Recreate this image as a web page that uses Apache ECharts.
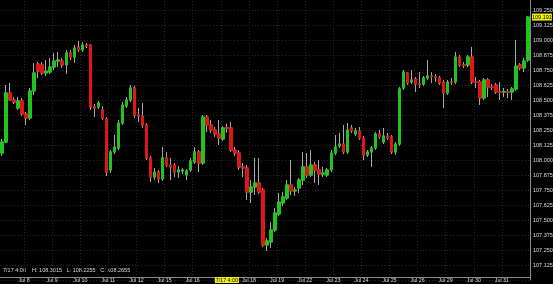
<!DOCTYPE html>
<html><head><meta charset="utf-8">
<script src="https://cdn.jsdelivr.net/npm/echarts@6/dist/echarts.min.js"></script>
<style>html,body{margin:0;padding:0;background:#000;}#c{width:553px;height:284px;}</style>
</head><body><div id="c"></div>
<script>
// Trading days and number of bars shown for each
const days = ['Jul 5','Jul 8','Jul 9','Jul 10','Jul 11','Jul 12','Jul 15','Jul 16','Jul 17','Jul 18','Jul 19',
  'Jul 22','Jul 23','Jul 24','Jul 25','Jul 26','Jul 29','Jul 30','Jul 31'];
const barsPerDay = [6,7,7,7,7,7,7,7,7,7,7,7,7,7,7,7,7,7,7];

const opens = [
108.058,108.150,108.558,108.500,108.433,108.492,108.383,108.350,108.575,108.800,
108.792,108.725,108.733,108.775,108.825,108.825,108.792,108.892,108.858,108.942,
108.917,108.958,108.958,108.442,108.442,108.417,108.342,107.917,108.067,108.100,
108.308,108.450,108.500,108.600,108.375,108.367,108.292,108.017,107.858,107.900,
107.842,108.017,107.958,107.958,107.900,107.908,107.875,107.917,107.983,108.067,
107.975,108.358,108.292,108.250,108.217,108.175,108.270,108.267,108.083,108.058,
107.942,107.933,107.733,107.775,107.808,107.750,107.292,107.317,107.417,107.550,
107.642,107.683,107.792,107.742,107.767,107.833,107.942,107.875,107.958,107.917,
107.883,107.875,107.917,108.058,108.117,108.133,108.067,108.267,108.217,108.242,
108.183,108.042,108.067,108.100,108.217,108.150,108.200,108.192,108.067,108.133,
108.600,108.725,108.650,108.675,108.633,108.633,108.683,108.700,108.692,108.683,
108.650,108.558,108.650,108.650,108.858,108.792,108.792,108.858,108.650,108.650,
108.517,108.667,108.608,108.625,108.567,108.567,108.567,108.567,108.592,108.792,
108.767,108.833];
const closes = [
108.150,108.558,108.500,108.483,108.492,108.383,108.350,108.575,108.725,108.742,
108.725,108.742,108.775,108.825,108.833,108.792,108.892,108.858,108.933,108.917,
108.958,108.950,108.442,108.433,108.475,108.350,107.900,108.067,108.108,108.308,
108.458,108.500,108.600,108.375,108.367,108.292,108.017,107.858,107.900,107.842,
108.017,107.958,107.942,107.900,107.917,107.917,107.908,107.992,108.067,107.975,
108.358,108.292,108.250,108.217,108.183,108.267,108.2655,108.083,108.058,107.942,
107.933,107.733,107.775,107.808,107.733,107.292,107.325,107.417,107.558,107.650,
107.692,107.792,107.742,107.750,107.833,107.942,107.875,107.958,107.917,107.883,
107.892,107.917,108.058,108.108,108.133,108.067,108.250,108.242,108.242,108.183,
108.042,108.067,108.100,108.217,108.192,108.200,108.183,108.067,108.133,108.592,
108.733,108.642,108.667,108.633,108.629,108.683,108.700,108.696,108.688,108.642,
108.558,108.650,108.646,108.858,108.792,108.788,108.858,108.650,108.646,108.517,
108.667,108.608,108.604,108.567,108.563,108.571,108.563,108.592,108.783,108.767,
108.825,109.191];
const lows = [
108.033,108.142,108.492,108.467,108.417,108.367,108.292,108.333,108.542,108.683,
108.708,108.700,108.717,108.750,108.775,108.767,108.717,108.833,108.808,108.900,
108.900,108.933,108.417,108.358,108.425,108.333,107.867,107.892,108.050,108.083,
108.292,108.433,108.483,108.350,108.317,108.267,108.000,107.817,107.833,107.808,
107.825,107.942,107.833,107.858,107.850,107.883,107.833,107.900,107.967,107.900,
107.958,108.233,108.225,108.192,108.125,108.158,108.2255,108.067,108.033,107.917,
107.858,107.667,107.642,107.708,107.717,107.275,107.242,107.267,107.400,107.533,
107.617,107.667,107.708,107.700,107.725,107.792,107.850,107.858,107.808,107.792,
107.858,107.858,107.900,108.042,108.100,108.050,108.050,108.225,108.200,108.167,
108.000,108.025,107.942,108.083,108.175,108.133,108.167,108.050,108.042,108.117,
108.583,108.625,108.633,108.567,108.600,108.617,108.667,108.642,108.650,108.625,
108.433,108.542,108.625,108.633,108.775,108.767,108.775,108.633,108.600,108.458,
108.500,108.525,108.583,108.550,108.500,108.525,108.517,108.500,108.575,108.750,
108.733,108.817];
const highs = [
108.175,108.625,108.642,108.525,108.525,108.517,108.400,108.600,108.808,108.817,
108.817,108.833,108.850,108.892,108.900,108.850,108.917,108.917,108.958,108.992,
108.983,108.975,108.967,108.467,108.492,108.450,108.358,108.083,108.208,108.333,
108.483,108.525,108.625,108.617,108.433,108.475,108.308,108.033,107.933,107.917,
108.108,108.067,108.017,107.975,107.950,107.933,107.925,108.017,108.108,108.083,
108.375,108.375,108.333,108.275,108.333,108.283,108.3015,108.317,108.108,108.083,
107.975,107.958,107.833,108.017,108.017,107.767,107.350,107.483,107.600,107.725,
107.733,107.833,108.000,107.775,107.850,108.067,108.058,108.083,107.983,108.000,
107.942,107.933,108.083,108.208,108.225,108.292,108.308,108.292,108.267,108.275,
108.200,108.083,108.117,108.233,108.250,108.267,108.225,108.208,108.150,108.608,
108.750,108.733,108.750,108.692,108.733,108.700,108.833,108.733,108.717,108.700,
108.667,108.667,108.683,108.900,108.875,108.817,108.875,108.942,108.692,108.667,
108.683,108.683,108.633,108.642,108.650,108.600,108.592,108.608,109.000,108.808,
108.850,109.200];

const yMin = 107.0, yMax = 109.375, yStep = 0.125;
const crossBar = 56;            // bar under the crosshair
const crossLabel = '7/17 4:00';
const lastPrice = 109.191;

const categories = [];
days.forEach((d, k) => { for (let b = 0; b < barsPerDay[k]; b++) categories.push(d + ' ' + b); });

const isDayStart = (i, v) => / 0$/.test(v) && !v.startsWith('Jul 5 ');
const isLabelDay = (i, v) => isDayStart(i, v) && !v.startsWith('Jul 17 ');

const up = '#1fc41f', down = '#e01616', wick = '#a8a8a8';
const grid = '#282828';
const txt = '#dcdcdc';
const ff = 'Liberation Sans, Arial, sans-serif';

const wickData = opens.map((o, i) => [o, closes[i], lows[i], highs[i]]);
const bodyData = opens.map((o, i) => [o, closes[i], Math.min(o, closes[i]), Math.max(o, closes[i])]);

const infoText = crossLabel + '    H: ' + highs[crossBar].toFixed(4) + '   L: ' + lows[crossBar].toFixed(4) +
  '   C: ' + closes[crossBar].toFixed(4);

const chart = echarts.init(document.getElementById('c'), null, {renderer: 'canvas'});
chart.setOption({
  animation: false,
  backgroundColor: '#000',
  grid: {left: 0, right: 23, top: -5, bottom: 4, containLabel: false, outerBoundsMode: 'none'},
  xAxis: {
    type: 'category', data: categories, boundaryGap: true, offset: -3,
    axisLine: {show: true, lineStyle: {color: '#8c8c8c', width: 1}},
    axisTick: {show: false},
    axisLabel: {interval: isLabelDay, formatter: v => v.split(' ').slice(0, 2).join(' '),
      color: txt, fontSize: 5.3, fontFamily: ff, margin: 1, padding: [0, 4, 0, 0]},
    splitLine: {show: true, interval: isDayStart, lineStyle: {color: grid, type: [1, 2]}},
    axisPointer: {show: true, value: crossBar, status: 'show', type: 'line', triggerTooltip: false,
      lineStyle: {opacity: 0},
      label: {show: true, formatter: () => crossLabel, backgroundColor: '#f2f20c', color: '#000',
        fontSize: 5.3, fontFamily: ff, padding: [1, 1, 0, 1], margin: 0, borderRadius: 0}}
  },
  yAxis: {
    type: 'value', position: 'right', min: yMin, max: yMax, interval: yStep, scale: true,
    axisLine: {show: true, lineStyle: {color: '#8c8c8c', width: 1}},
    axisTick: {show: false},
    axisLabel: {color: txt, fontSize: 5.5, fontFamily: ff, margin: 3, showMinLabel: false, showMaxLabel: false,
      formatter: v => v.toFixed(3)},
    splitLine: {show: true, lineStyle: {color: grid, type: [1, 2]}},
    axisPointer: {show: true, value: lastPrice, status: 'show', type: 'line', triggerTooltip: false,
      lineStyle: {opacity: 0},
      label: {show: true, formatter: p => Number(p.value).toFixed(3), backgroundColor: '#f2f20c', color: '#000',
        fontSize: 5.5, fontFamily: ff, padding: [1, 0, 0, 0], margin: 2, borderRadius: 0}}
  },
  series: [
    {type: 'candlestick', data: wickData, barWidth: 3, silent: true,
      itemStyle: {color: 'transparent', color0: 'transparent', borderColor: wick, borderColor0: wick, borderWidth: 1}},
    {type: 'candlestick', data: bodyData, barWidth: 3, silent: true,
      itemStyle: {color: up, color0: down, borderColor: up, borderColor0: down, borderWidth: 1}}
  ],
  graphic: [{type: 'text', left: 3, top: 267, silent: true,
    style: {text: infoText, fill: txt, font: '5.5px ' + ff}}]
});
</script></body></html>
